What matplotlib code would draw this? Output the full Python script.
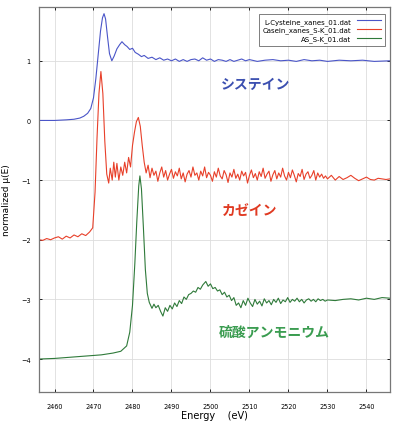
import matplotlib
matplotlib.use("Agg")
import matplotlib.pyplot as plt

# L-Cysteine (offset 0)
cys_e = [2456, 2460, 2463, 2465, 2466.5, 2467.5, 2468.5, 2469.3, 2470, 2470.6, 2471.2,
         2471.8, 2472.3, 2472.7, 2473.1, 2473.6, 2474.1, 2474.7, 2475.3, 2476, 2476.7,
         2477.3, 2478, 2478.6, 2479.3, 2480, 2480.7, 2481.5, 2482.3, 2483, 2484, 2485,
         2486, 2487, 2488, 2489, 2490, 2491, 2492, 2493, 2494, 2495, 2496, 2497, 2498,
         2499, 2500, 2501, 2502, 2503, 2504, 2505, 2506, 2507, 2508, 2509, 2510, 2512,
         2514, 2516, 2518, 2520, 2522, 2524, 2526, 2528, 2530, 2533, 2536, 2539, 2542,
         2546]
cys_mu = [0.00, 0.00, 0.01, 0.02, 0.04, 0.07, 0.12, 0.20, 0.38, 0.70, 1.10,
          1.50, 1.72, 1.79, 1.70, 1.40, 1.12, 1.00, 1.08, 1.20, 1.27,
          1.32, 1.27, 1.24, 1.19, 1.21, 1.14, 1.11, 1.07, 1.09, 1.04, 1.06,
          1.02, 1.05, 1.01, 1.03, 1.00, 1.03, 0.99, 1.02, 0.99, 1.02, 1.03, 1.00, 1.05,
          1.01, 1.03, 0.99, 1.02, 1.01, 0.99, 1.02, 0.99, 1.01, 1.03, 1.00, 1.02, 0.99,
          1.01, 1.02, 1.00, 1.01, 0.99, 1.02, 1.00, 1.01, 0.99, 1.01, 1.00, 1.01, 0.99,
          1.00]

# Casein (offset -2)
cas_e = [2456, 2457, 2458, 2459, 2460, 2461, 2462, 2463, 2464, 2465, 2466, 2467, 2468,
         2469, 2469.8, 2470.4, 2470.9, 2471.4, 2471.9, 2472.4, 2472.9, 2473.4, 2473.9,
         2474.3, 2474.8, 2475.2, 2475.6, 2476, 2476.5, 2477, 2477.5, 2478, 2478.5, 2479,
         2479.5, 2480, 2480.5, 2481, 2481.5, 2482, 2482.5, 2483, 2483.5, 2484, 2484.5,
         2485, 2485.5, 2486, 2486.5, 2487, 2487.5, 2488, 2488.5, 2489, 2489.5, 2490,
         2490.5, 2491, 2491.5, 2492, 2492.5, 2493, 2493.5, 2494, 2494.5, 2495, 2495.5,
         2496, 2496.5, 2497, 2497.5, 2498, 2498.5, 2499, 2499.5, 2500, 2500.5, 2501,
         2501.5, 2502, 2502.5, 2503, 2503.5, 2504, 2504.5, 2505, 2505.5, 2506, 2506.5,
         2507, 2507.5, 2508, 2508.5, 2509, 2509.5, 2510, 2510.5, 2511, 2511.5, 2512,
         2512.5, 2513, 2513.5, 2514, 2514.5, 2515, 2515.5, 2516, 2516.5, 2517, 2517.5,
         2518, 2518.5, 2519, 2519.5, 2520, 2520.5, 2521, 2521.5, 2522, 2522.5, 2523,
         2523.5, 2524, 2524.5, 2525, 2525.5, 2526, 2526.5, 2527, 2527.5, 2528, 2528.5,
         2529, 2529.5, 2530, 2531, 2532, 2533, 2534, 2535, 2536, 2537, 2538, 2539, 2540,
         2541, 2542, 2543, 2544, 2545, 2546]
cas_mu = [-2.00, -2.01, -1.98, -2.00, -1.97, -1.95, -1.99, -1.94, -1.97, -1.92, -1.95, -1.90, -1.93,
          -1.87, -1.80, -1.20, -0.30, 0.45, 0.82, 0.45, -0.35, -0.90, -1.05,
          -0.80, -1.00, -0.70, -0.95, -0.72, -1.00, -0.78, -0.92, -0.70, -0.88, -0.62,
          -0.78, -0.42, -0.20, -0.02, 0.05, -0.10, -0.42, -0.70, -0.88, -0.75, -0.96,
          -0.80, -0.92, -0.85, -1.02, -0.88, -0.78, -0.95, -0.84, -1.00, -0.90, -0.82,
          -0.97, -0.86, -0.93, -0.80, -0.98, -0.88, -1.03, -0.90, -0.84, -0.95, -0.78,
          -0.92, -0.88, -1.00, -0.85, -0.93, -0.78, -0.96, -0.87, -0.92, -1.02, -0.86,
          -0.95, -0.80, -0.93, -0.98, -0.84, -0.91, -1.04, -0.88, -0.95, -0.82, -0.97,
          -0.90, -1.00, -0.85, -0.93, -0.87, -1.05, -0.92, -0.83, -0.96, -0.89, -1.00,
          -0.86, -0.94, -0.80, -0.97, -0.90, -0.85, -1.02, -0.91, -0.84, -0.98, -0.88,
          -0.95, -0.80, -0.93, -1.00, -0.87, -0.96, -0.83, -0.92, -1.03, -0.89, -0.94,
          -0.82, -0.99, -0.90, -0.86, -0.97, -0.92, -0.84, -1.00, -0.88, -0.95, -0.90,
          -0.97, -0.93, -0.98, -0.92, -1.00, -0.94, -0.99, -0.96, -0.92, -0.97, -1.01,
          -0.98, -0.95, -0.99, -1.00, -0.97, -0.98, -0.99, -0.98]

# Ammonium sulfate (offset -4)
as_e = [2456, 2460, 2464, 2468, 2472, 2475, 2477, 2478.5, 2479.3, 2480, 2480.6, 2481.1,
        2481.6, 2481.9, 2482.3, 2482.8, 2483.3, 2483.8, 2484.3, 2485, 2485.5, 2486,
        2486.6, 2487.2, 2487.8, 2488.4, 2489, 2489.6, 2490.2, 2490.8, 2491.4, 2492,
        2492.6, 2493.2, 2493.8, 2494.4, 2495, 2495.6, 2496.2, 2496.8, 2497.4, 2498,
        2498.8, 2499.4, 2500, 2500.6, 2501.2, 2501.8, 2502.4, 2503, 2503.6, 2504.2,
        2504.8, 2505.4, 2506, 2506.6, 2507.2, 2507.8, 2508.4, 2509, 2509.6, 2510.2,
        2510.8, 2511.4, 2512, 2512.6, 2513.2, 2513.8, 2514.4, 2515, 2515.6, 2516.2,
        2516.8, 2517.4, 2518, 2518.6, 2519.2, 2519.8, 2520.4, 2521, 2521.6, 2522.2,
        2522.8, 2523.4, 2524, 2524.6, 2525.2, 2525.8, 2526.4, 2527, 2527.6, 2528.2,
        2528.8, 2529.4, 2530, 2532, 2534, 2536, 2538, 2540, 2542, 2544, 2546]
as_mu = [-4.00, -3.99, -3.97, -3.95, -3.93, -3.90, -3.87, -3.78, -3.55, -3.10, -2.40, -1.70,
         -1.10, -0.93, -1.15, -1.80, -2.50, -2.90, -3.05, -3.15, -3.08, -3.14,
         -3.10, -3.20, -3.28, -3.14, -3.20, -3.10, -3.16, -3.06, -3.12, -3.02,
         -3.07, -2.96, -3.00, -2.92, -2.90, -2.86, -2.88, -2.80, -2.83, -2.76,
         -2.70, -2.78, -2.74, -2.82, -2.80, -2.86, -2.84, -2.92, -2.88, -2.96,
         -2.93, -3.02, -2.97, -3.10, -3.06, -3.14, -3.02, -3.10, -2.98, -3.06,
         -3.12, -3.00, -3.08, -3.03, -3.11, -2.99, -3.06, -3.02, -3.09, -3.00,
         -3.05, -2.98, -3.07, -3.01, -3.04, -2.97, -3.05, -3.00, -3.03, -2.98,
         -3.04, -3.00, -3.06, -3.01, -2.99, -3.03, -3.00, -3.04, -2.99, -3.02,
         -3.00, -3.03, -3.01, -3.02, -3.00, -2.99, -3.01, -2.98, -3.00, -2.97, -2.98]

labels = ["L-Cysteine_xanes_01.dat", "Casein_xanes_S-K_01.dat", "AS_S-K_01.dat"]
names_jp = ["システイン", "カゼイン", "硫酸アンモニウム"]
x_ticks = [2460, 2470, 2480, 2490, 2500, 2510, 2520, 2530, 2540]
y_ticks = [-4, -3, -2, -1, 0, 1]

if __name__ == "__main__":
    fig = plt.figure(figsize=(3.93, 4.27), dpi=100)
    ax = fig.add_axes([0.099, 0.080, 0.893, 0.901])

    ax.plot(cys_e, cys_mu, color="#4a55c8", lw=0.8, label=labels[0])
    ax.plot(cas_e, cas_mu, color="#e8402a", lw=0.8, label=labels[1])
    ax.plot(as_e, as_mu, color="#2f7a3a", lw=0.8, label=labels[2])

    ax.set_xlim(2456, 2546)
    ax.set_ylim(-4.55, 1.9)
    ax.set_xticks(x_ticks)
    ax.set_yticks(y_ticks)
    ax.grid(True, color="#dddddd", lw=0.6)
    ax.tick_params(direction="in", top=True, right=True, labelsize=4.7,
                   length=2.5, width=0.6)
    ax.tick_params(axis="x", pad=8)
    ax.tick_params(axis="y", pad=6)
    for s in ax.spines.values():
        s.set_color("#777777")
        s.set_linewidth(0.9)

    ax.set_xlabel("Energy    (eV)", fontsize=7, labelpad=1)
    ax.set_ylabel("normalized \u03bc(E)", fontsize=6.5, labelpad=7)

    leg = ax.legend(loc="upper right", fontsize=5, markerfirst=False,
                    handlelength=3.5, fancybox=False, edgecolor="#444444",
                    borderpad=0.5, labelspacing=0.3, bbox_to_anchor=(0.995, 0.99))
    leg.get_frame().set_linewidth(0.6)

    jp_font = ["Noto Sans CJK JP", "DejaVu Sans"]
    ax.text(2502.7, 0.61, names_jp[0], color="#3b4fb0", fontsize=10,
            fontweight="bold", family=jp_font, ha="left", va="center")
    ax.text(2502.9, -1.50, names_jp[1], color="#e03a22", fontsize=10,
            fontweight="bold", family=jp_font, ha="left", va="center")
    ax.text(2502.2, -3.55, names_jp[2], color="#3a9c50", fontsize=10,
            fontweight="bold", family=jp_font, ha="left", va="center")

    fig.savefig("out.png", dpi=100)
